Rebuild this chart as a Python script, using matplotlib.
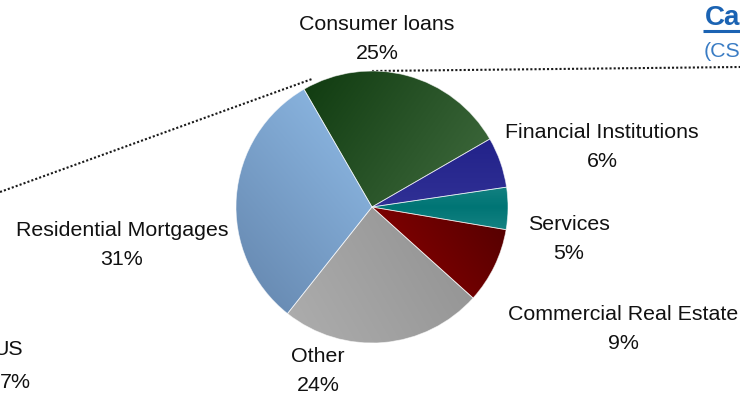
import numpy as np
import matplotlib
matplotlib.use('Agg')
import matplotlib.pyplot as plt
from matplotlib.colors import to_rgb

plt.rcParams['font.family'] = ['Liberation Sans', 'DejaVu Sans']

# loan book split, in percent
segments = ['Consumer loans', 'Financial Institutions', 'Services',
            'Commercial Real Estate', 'Other', 'Residential Mortgages']
shares = [25, 6, 5, 9, 24, 31]

# gradient stops per slice and the direction (deg) the gradient runs along
gradients = [
    (['#0f3a0f', '#4a7548'], -35),
    (['#14147e', '#4c4cac'], -90),
    (['#7cc2c2', '#007575', '#7cc2c2'], -90),
    (['#850000', '#7c0000', '#480000'], 35),
    (['#adadad', '#8a8a8a'], 30),
    (['#6a8db5', '#9ccbf8'], 40),
]

# label anchors: x centre, baseline of name line (image coords, y down)
label_pos = [(377, 30), (602, 138), (569, 230), (623, 320), (318, 362), (122, 236)]

W, H = 740, 396
fig = plt.figure(figsize=(W / 100, H / 100), dpi=100)
ax = fig.add_axes([0, 0, 1, 1])

cx, cy, r = 372, H - 207, 136

# callout lines, running in behind the pie
dots = dict(color='#1a1a1a', lw=1.5, linestyle=(0, (1, 1)), zorder=1)
ax.plot([0, 312], [H - 192, H - 79], **dots)
ax.plot([372, W], [H - 71, H - 67], **dots)

wedges, _ = ax.pie(shares, startangle=120, counterclock=False,
                   center=(cx, cy), radius=r, frame=True)


def gradient_image(stops, angle, n=300):
    xs = np.linspace(-1, 1, n)
    gx, gy = np.meshgrid(xs, xs)
    a = np.deg2rad(angle)
    t = (gx * np.cos(a) + gy * np.sin(a) + 1) / 2
    t = np.clip(t, 0, 1)
    cols = np.array([to_rgb(c) for c in stops])
    pos = np.linspace(0, 1, len(cols))
    img = np.zeros((n, n, 3))
    for k in range(3):
        img[..., k] = np.interp(t, pos, cols[:, k])
    return img


for w, (stops, ang) in zip(wedges, gradients):
    w.set_facecolor('none')
    w.set_edgecolor((1, 1, 1, 0.6))
    w.set_linewidth(0.6)
    w.set_zorder(3)
    im = ax.imshow(gradient_image(stops, ang), origin='lower',
                   extent=[cx - r, cx + r, cy - r, cy + r],
                   interpolation='bilinear', zorder=2)
    im.set_clip_path(w)

fs = 15.4
for name, val, (x, yb) in zip(segments, shares, label_pos):
    ax.text(x, H - yb, name, ha='center', va='baseline', fontsize=fs, color='#111111')
    ax.text(x, H - yb - 29, f'{val}%', ha='center', va='baseline', fontsize=fs, color='#111111')

# neighbouring label, running off the left edge
ax.text(23, H - 355, 'US', ha='right', va='baseline', fontsize=fs, color='#111111')
ax.text(31, H - 388, '7%', ha='right', va='baseline', fontsize=fs, color='#111111')

# heading of the next panel, running off the right edge
ax.text(705, H - 25, 'Ca', ha='left', va='baseline', fontsize=20, fontweight='bold',
        color='#1b63b3')
ax.plot([703, W], [H - 31, H - 31], color='#1b63b3', lw=2.2, solid_capstyle='butt')
ax.text(704, H - 57, '(CS', ha='left', va='baseline', fontsize=fs, color='#3a7cc4')

ax.set_xlim(0, W)
ax.set_ylim(0, H)
ax.set_aspect('auto')
ax.axis('off')

fig.savefig('out.png', dpi=100)
